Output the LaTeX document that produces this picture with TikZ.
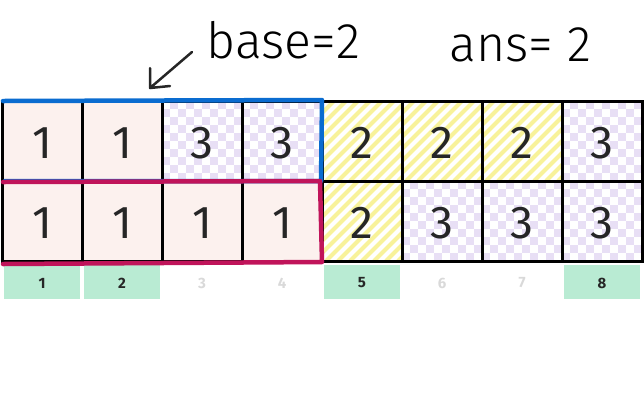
\documentclass[tikz,border=0pt]{standalone}
\usepackage{fontspec}
\setmainfont{Fira Sans}
\begin{document}
\begin{tikzpicture}[x=1pt,y=-1pt,
  cellbox/.style={draw=black,line width=3pt},
  num/.style={font=\fontsize{46}{46}\selectfont, text=black!85},
  lab/.style={font=\fontsize{15}{15}\selectfont\bfseries},
  hand/.style={font=\fontspec{Fira Sans Light}\fontsize{50}{50}\selectfont}]
\useasboundingbox (0,0) rectangle (644,400);
\definecolor{pinkbg}{HTML}{FCF1EE}
\definecolor{lav}{HTML}{E8DFF5}
\definecolor{yel}{HTML}{F8F29A}
\definecolor{grn}{HTML}{B9EBD3}
\definecolor{myblue}{HTML}{0A6CD0}
\definecolor{myred}{HTML}{C0145A}
\newcommand{\cellfill}[3]{%
  \pgfmathsetmacro{\cx}{2+80*#1}\pgfmathsetmacro{\cy}{101+80*#2}
  \ifnum#3=1 \fill[pinkbg] (\cx,\cy) rectangle ++(80,80);\fi
  \ifnum#3=3
    \foreach \i in {0,...,9}{\foreach \j in {0,...,9}{
      \pgfmathparse{int(mod(\i+\j,2))}
      \ifnum\pgfmathresult=1 \fill[lav] ({\cx+8*\i},{\cy+8*\j}) rectangle ++(8,8);\fi}}
  \fi
  \ifnum#3=2
    \begin{scope}
      \clip (\cx,\cy) rectangle ++(80,80);
      \foreach \k in {-80,-68,...,160}{\draw[yel,line width=4pt] ({\cx+\k},{\cy+80}) -- ++(80,-80);}
    \end{scope}
  \fi
  \node[num] (c#1r#2) at ({\cx+40},{\cy+42}) {#3};}
\foreach \v [count=\c from 0] in {1,1,3,3,2,2,2,3}{\cellfill{\c}{0}{\v}}
\foreach \v [count=\c from 0] in {1,1,1,1,2,3,3,3}{\cellfill{\c}{1}{\v}}
\foreach \x in {2,82,...,642}{\draw[line width=3pt] (\x,101) -- (\x,261);}
\draw[line width=3pt] (0.5,101) -- (643.5,101) (0.5,181) -- (643.5,181) (0.5,261) -- (643.5,261);
\foreach \i [count=\c from 0] in {1,...,8}{
  \pgfmathsetmacro{\lx}{4+80*\c}
  \ifnum\i=1 \fill[grn] (\lx,265) rectangle ++(76,34);\fi
  \ifnum\i=2 \fill[grn] (\lx,265) rectangle ++(76,34);\fi
  \ifnum\i=5 \fill[grn] (\lx,265) rectangle ++(76,34);\fi
  \ifnum\i=8 \fill[grn] (\lx,265) rectangle ++(76,34);\fi
  \ifnum\i=3 \node[lab,text=black!15] (l\i) at ({\lx+38},283) {\i};
  \else\ifnum\i=4 \node[lab,text=black!15] (l\i) at ({\lx+38},283) {\i};
  \else\ifnum\i=6 \node[lab,text=black!15] (l\i) at ({\lx+38},283) {\i};
  \else\ifnum\i=7 \node[lab,text=black!15] (l\i) at ({\lx+38},283) {\i};
  \else \node[lab,text=black!85] (l\i) at ({\lx+38},283) {\i};\fi\fi\fi\fi}
\draw[myblue,line width=4.5pt,line cap=round,line join=round] (3,101) -- (322,100) -- (321,181) -- (5,181);
\draw[myred,line width=4.5pt,line cap=round,line join=round] (3,182) -- (320,181) -- (322,262) -- (3,264);
\node[hand,anchor=west] (base) at (203,40) {base=2};
\node[hand,anchor=west] (ans) at (446,45) {ans= 2};
\coordinate (tip) at (150,88);
\draw[black!85,line width=2.5pt,line cap=round,line join=round] (192,52) -- (tip) (tip) -- (150,68) (tip) -- (170,86);
\end{tikzpicture}
\end{document}
